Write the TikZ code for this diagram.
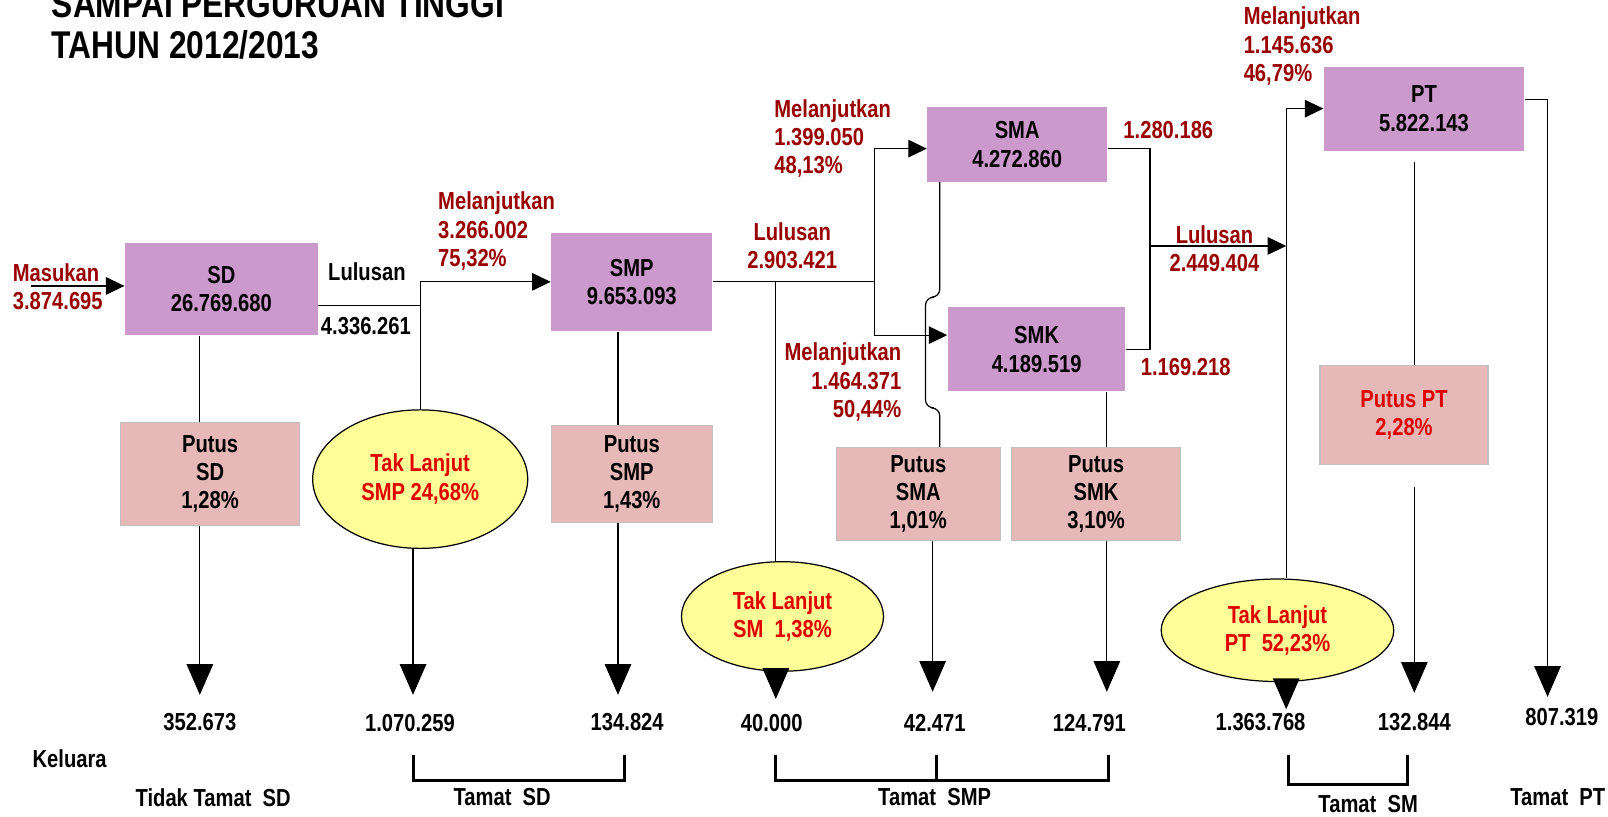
\documentclass[tikz,border=0pt]{standalone}
\usepackage{fontspec}
\setmainfont{Liberation Sans}[FakeStretch=0.82]
\usepackage{xcolor}
\usetikzlibrary{arrows.meta,shapes.geometric}

\definecolor{ungu}{HTML}{CC99CC}
\definecolor{merahmuda}{HTML}{E6B9B8}
\definecolor{kuning}{HTML}{FFFF99}
\definecolor{merahtua}{HTML}{990000}
\definecolor{merah}{HTML}{E00000}

\begin{document}
\begin{tikzpicture}[x=0.0205cm,y=-0.0205cm,line width=0.7pt,
  every node/.style={font=\fontsize{14}{16.1}\selectfont\bfseries,inner sep=0pt,align=center},
  jenjang/.style={rectangle,fill=ungu},
  putus/.style={rectangle,fill=merahmuda,draw=black!25},
  taklanjut/.style={ellipse,fill=kuning,draw,text=merah},
  labelmerah/.style={text=merahtua},
  panah/.style={-{Triangle[length=0.37cm,width=0.35cm]}},
  keluar/.style={-{Triangle[length=0.615cm,width=0.53cm]}},
  kurung/.style={line width=1.7pt}]
\useasboundingbox (0,0) rectangle (1569,797);
\clip (0,0) rectangle (1569,797);

% judul
\node (judul1) at (50,17) [anchor=base west,font=\fontsize{22}{28}\selectfont\bfseries] {SAMPAI PERGURUAN TINGGI};
\node (judul2) at (50,57) [anchor=base west,font=\fontsize{22}{28}\selectfont\bfseries] {TAHUN 2012/2013};

% jenjang
\node (sd)  at (216,282)    [jenjang,minimum width=3.85cm,minimum height=1.845cm] {SD\\26.769.680};
\node (smp) at (616.5,275)  [jenjang,minimum width=3.22cm,minimum height=1.97cm] {SMP\\9.653.093};
\node (sma) at (992.5,141)  [jenjang,minimum width=3.59cm,minimum height=1.48cm] {SMA\\4.272.860};
\node (smk) at (1011.5,341) [jenjang,minimum width=3.55cm,minimum height=1.68cm] {SMK\\4.189.519};
\node (pt)  at (1389.5,106) [jenjang,minimum width=4cm,minimum height=1.68cm] {PT\\5.822.143};

% putus sekolah
\node (psd)  at (205,462.5)   [putus,minimum width=3.57cm,minimum height=2.07cm] {Putus\\SD\\1,28\%};
\node (psmp) at (616.5,462.5) [putus,minimum width=3.22cm,minimum height=1.95cm] {Putus\\SMP\\1,43\%};
\node (psma) at (896,482)     [putus,minimum width=3.28cm,minimum height=1.845cm] {Putus\\SMA\\1,01\%};
\node (psmk) at (1069.5,482)  [putus,minimum width=3.38cm,minimum height=1.845cm] {Putus\\SMK\\3,10\%};
\node (ppt)  at (1370,405)    [putus,text=merah,minimum width=3.36cm,minimum height=1.97cm] {Putus PT\\2,28\%};

% tidak melanjutkan
\node (tlsmp) at (410,467.5)  [taklanjut,minimum width=4.3cm,minimum height=2.77cm] {Tak Lanjut\\SMP 24,68\%};
\node (tlsm)  at (763.5,601.5)[taklanjut,minimum width=4.04cm,minimum height=2.19cm] {Tak Lanjut\\SM\ \ 1,38\%};
\node (tlpt)  at (1246.5,615) [taklanjut,minimum width=4.65cm,minimum height=2.05cm] {Tak Lanjut\\PT\ \ 52,23\%};

% label alur
\node (masuk) at (12,280) [labelmerah,anchor=west,align=left] {Masukan\\3.874.695};
\node (lulsd) at (358,265) {Lulusan};
\node (jmlsd) at (357,318) {4.336.261};
\node (ljsmp) at (427,225.5) [labelmerah,anchor=west,align=left] {Melanjutkan\\3.266.002\\75,32\%};
\node (lulsmp) at (773,240) [labelmerah] {Lulusan\\2.903.421};
\node (ljsma) at (755,135) [labelmerah,anchor=west,align=left] {Melanjutkan\\1.399.050\\48,13\%};
\node (ljsmk) at (880,373) [labelmerah,anchor=east,align=right] {Melanjutkan\\1.464.371\\50,44\%};
\node (lulsma) at (1140,127) [labelmerah] {1.280.186};
\node (lulsmk) at (1157,358) [labelmerah] {1.169.218};
\node (lulsm) at (1185,243) [labelmerah] {Lulusan\\2.449.404};
\node (ljpt) at (1213,45) [labelmerah,anchor=west,align=left] {Melanjutkan\\1.145.636\\46,79\%};

% keluaran
\coordinate (o1) at (195,678);
\coordinate (o2) at (403,678);
\coordinate (o3) at (603,678);
\coordinate (o4) at (757,682);
\coordinate (o5) at (910,675);
\coordinate (o6) at (1080,675);
\coordinate (o7) at (1255,692);
\coordinate (o8) at (1380,676);
\coordinate (o9) at (1510,680);
\node (n1) at (195,705) {352.673};
\node (n2) at (400,705) {1.070.259};
\node (n3) at (612,705) {134.824};
\node (n4) at (753,705) {40.000};
\node (n5) at (912,705) {42.471};
\node (n6) at (1063,705) {124.791};
\node (n7) at (1230,705) {1.363.768};
\node (n8) at (1380,705) {132.844};
\node (n9) at (1524,700) {807.319};
\node (keluara) at (68,740) {Keluara};
\node (k1) at (208,778) {Tidak Tamat\ \ SD};
\node (k2) at (490,778) {Tamat\ \ SD};
\node (k3) at (912,778) {Tamat\ \ SMP};
\node (k4) at (1335,785) {Tamat\ \ SM};
\node (k5) at (1520,778) {Tamat\ \ PT};

% alur SD - SMP
\coordinate (awal) at (30,279);
\draw[panah] (awal) -- (sd.west |- awal);
\draw ([yshift=-0.328cm]sd.east) -- ++(100,0);
\draw[panah] (tlsmp.north) |- (smp.west);
\draw (sd.south -| o1) -- (psd.north -| o1);
\draw[keluar] (psd.south -| o1) -- (o1);
\draw[keluar] (tlsmp.south -| o2) -- (o2);
\draw (smp.south -| o3) -- (psmp.north -| o3);
\draw[keluar] (psmp.south -| o3) -- (o3);

% alur SMP - SMA/SMK
\coordinate (j2) at (853,275);
\draw (smp.east) -- (j2);
\draw[panah] (j2) |- ([yshift=-0.082cm]sma.west);
\draw[panah] (j2) |- ([yshift=0.287cm]smk.west);
\draw (j2 -| o4) -- (tlsm.north -| o4);
\draw[keluar] (tlsm.south -| o4) -- (o4);
\draw[rounded corners=0.164cm] (sma.south -| 917,0) -- (917,290) -- (903,290) -- (903,398) -- (917,398) -- (psma.north -| 917,0);
\draw[keluar] (psma.south -| o5) -- (o5);
\draw (smk.south -| o6) -- (psmk.north -| o6);
\draw[keluar] (psmk.south -| o6) -- (o6);

% alur SMA/SMK - PT
\coordinate (j3) at (1122,240);
\coordinate (j4) at (1255,240);
\draw ([yshift=-0.082cm]sma.east) -| (j3);
\draw (smk.east) -| (j3);
\draw[panah] (j3) -- (j4);
\draw[panah] (tlpt.north -| j4) |- (pt.west);
\draw[keluar] (tlpt.south -| o7) -- (o7);
\draw[shorten <=0.205cm] (pt.south -| o8) -- (ppt.north -| o8);
\draw[keluar,shorten <=0.45cm] (ppt.south -| o8) -- (o8);
\draw[keluar] ([yshift=0.185cm]pt.east) -| (o9);

% kurung tamat
\draw[kurung] (403,737) |- (609,762) -- (609,737);
\draw[kurung] (757,737) |- (1082,762) -- (1082,737);
\draw[kurung] (914,737) -- (914,762);
\draw[kurung] (1257,737) |- (1373,765) -- (1373,737);
\end{tikzpicture}
\end{document}
